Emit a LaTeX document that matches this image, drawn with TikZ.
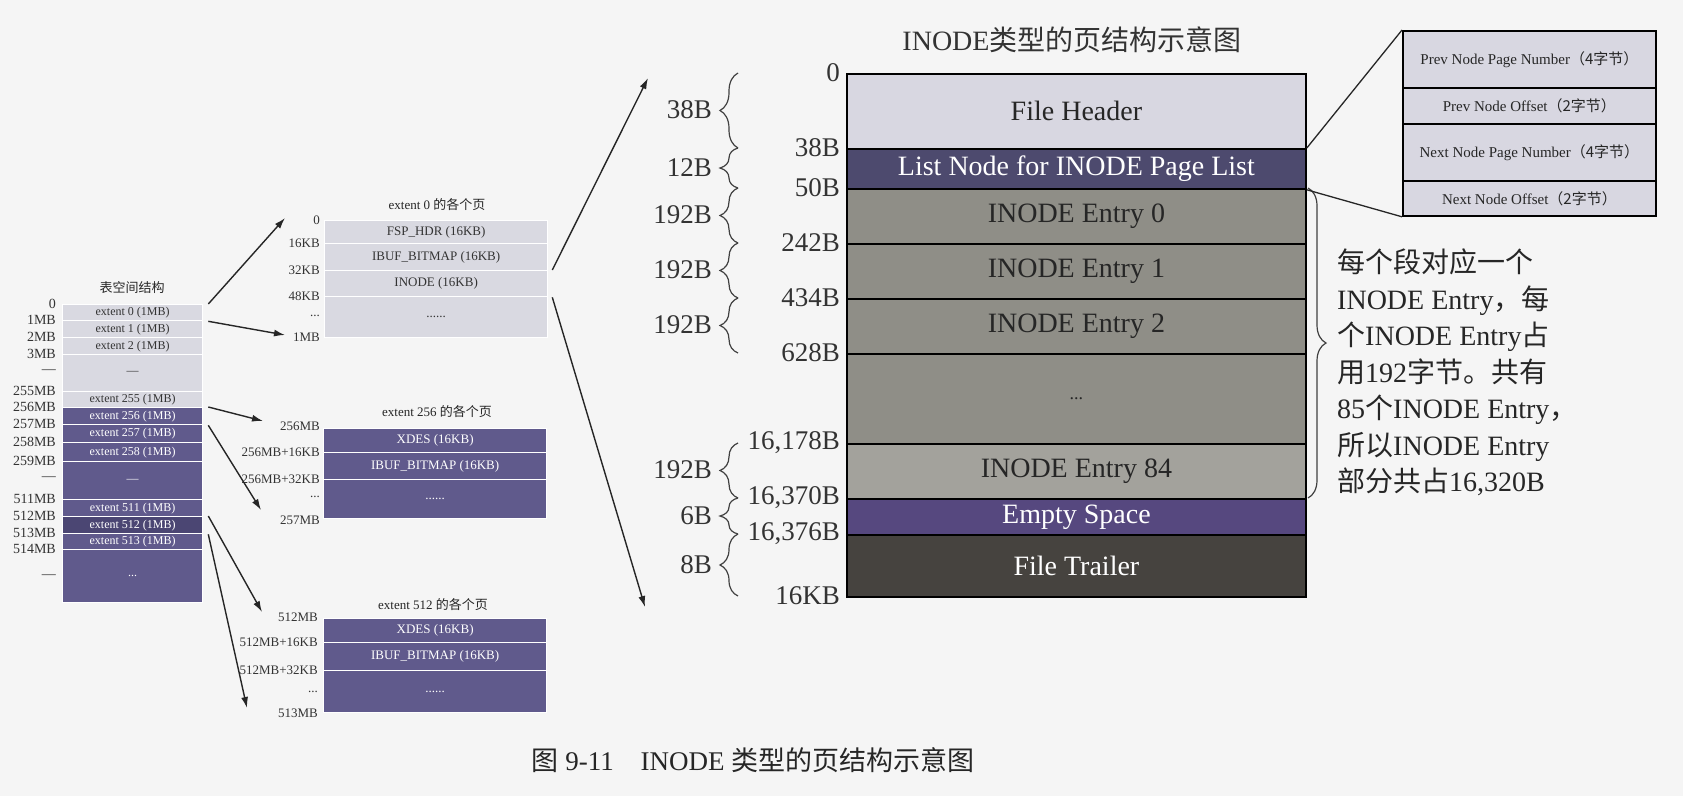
\documentclass[tikz,border=0pt]{standalone}
\usepackage{fontspec}
\setmainfont{Liberation Serif}
\newfontfamily\cjk{Noto Sans CJK SC}
\usetikzlibrary{decorations.pathreplacing,arrows.meta,calc}
\newcommand{\zh}[1]{{\cjk #1}}
\newcommand{\fsz}[2]{\fontsize{#1}{#2}\selectfont}
\definecolor{bg}{HTML}{F5F5F5}
\definecolor{rowlight}{HTML}{D9D9E1}
\definecolor{rowdark}{HTML}{605A8C}
\definecolor{rowdarker}{HTML}{4B4673}
\definecolor{hdr}{HTML}{D8D7E1}
\definecolor{listnode}{HTML}{4D4A6E}
\definecolor{entry}{HTML}{8F8E87}
\definecolor{entrylt}{HTML}{A3A29C}
\definecolor{emptysp}{HTML}{56487F}
\definecolor{trailer}{HTML}{46433F}
\begin{document}
\begin{tikzpicture}[x=1pt,y=-1pt,
  lrow/.style={rectangle, anchor=north west, fill=rowlight, draw=white, line width=1.3pt, inner sep=0pt, text=black!80, font=\fsz{12}{14}},
  drow/.style={lrow, fill=rowdark, text=white},
  xrow/.style={lrow, fill=rowdarker, text=white},
  prow/.style={rectangle, anchor=north west, draw=black, line width=1.8pt, inner sep=0pt, font=\fsz{28}{32}, text=black!85},
  sbrow/.style={rectangle, anchor=north west, draw=black, line width=1.8pt, fill=hdr, inner sep=0pt, font=\fsz{15}{18}, text=black!85},
  slab/.style={anchor=east, inner sep=0pt, font=\fsz{13}{15}, text=black!80},
  tlab/.style={slab, font=\fsz{14}{16}},
  ttl/.style={inner sep=0pt, font=\fsz{13}{15}, text=black!85},
  blab/.style={anchor=east, inner sep=0pt, font=\fsz{27}{30}, text=black!80},
  brc/.style={decorate, decoration={brace, amplitude=18pt}, line width=1.2pt, black!75},
  arr/.style={-{Latex[length=11pt,width=7pt]}, line width=1.4pt, black!85},
  lnk/.style={line width=1.3pt, black!85}
]
\fill[bg] (0,0) rectangle (1683,796);
\useasboundingbox (0,0) rectangle (1683,796);

% ---------- tablespace structure ----------
\node[ttl] (tsT) at (132,288) {\zh{表空间结构}};
\node[lrow, minimum width=140pt, minimum height=16pt] (e0) at (62,304) {extent 0 (1MB)};
\node[lrow, minimum width=140pt, minimum height=17pt] (e1) at (62,320) {extent 1 (1MB)};
\node[lrow, minimum width=140pt, minimum height=17pt] (e2) at (62,337) {extent 2 (1MB)};
\node[lrow, minimum width=140pt, minimum height=37pt] (ed1) at (62,354) {---};
\node[lrow, minimum width=140pt, minimum height=16pt] (e255) at (62,391) {extent 255 (1MB)};
\node[drow, minimum width=140pt, minimum height=17pt] (e256) at (62,407) {extent 256 (1MB)};
\node[drow, minimum width=140pt, minimum height=18pt] (e257) at (62,424) {extent 257 (1MB)};
\node[drow, minimum width=140pt, minimum height=19pt] (e258) at (62,442) {extent 258 (1MB)};
\node[drow, minimum width=140pt, minimum height=38pt] (ed2) at (62,461) {---};
\node[drow, minimum width=140pt, minimum height=17pt] (e511) at (62,499) {extent 511 (1MB)};
\node[xrow, minimum width=140pt, minimum height=17pt] (e512) at (62,516) {extent 512 (1MB)};
\node[drow, minimum width=140pt, minimum height=16pt] (e513) at (62,533) {extent 513 (1MB)};
\node[drow, minimum width=140pt, minimum height=53pt] (ed3) at (62,549) {...};

\node[tlab] (tl0) at (56,304) {0};
\node[tlab] (tl1) at (56,320) {1MB};
\node[tlab] (tl2) at (56,337) {2MB};
\node[tlab] (tl3) at (56,354) {3MB};
\node[tlab] (tld1) at (56,372) {---};
\node[tlab] (tl255) at (56,391) {255MB};
\node[tlab] (tl256) at (56,407) {256MB};
\node[tlab] (tl257) at (56,424) {257MB};
\node[tlab] (tl258) at (56,442) {258MB};
\node[tlab] (tl259) at (56,461) {259MB};
\node[tlab] (tld2) at (56,479) {---};
\node[tlab] (tl511) at (56,499) {511MB};
\node[tlab] (tl512) at (56,516) {512MB};
\node[tlab] (tl513) at (56,533) {513MB};
\node[tlab] (tl514) at (56,549) {514MB};
\node[tlab] (tld3) at (56,577) {---};

% ---------- extent 0 pages ----------
\node[ttl] (p0T) at (437,205) {extent 0 \zh{的各个页}};
\node[lrow, minimum width=223pt, minimum height=23pt, font=\fsz{13}{15}] (p0a) at (324,220) {FSP\_HDR (16KB)};
\node[lrow, minimum width=223pt, minimum height=27pt, font=\fsz{13}{15}] (p0b) at (324,243) {IBUF\_BITMAP (16KB)};
\node[lrow, minimum width=223pt, minimum height=26pt, font=\fsz{13}{15}] (p0c) at (324,270) {INODE (16KB)};
\node[lrow, minimum width=223pt, minimum height=41pt, font=\fsz{13}{15}] (p0d) at (324,296) {......};
\node[slab] (q0a) at (320,220) {0};
\node[slab] (q0b) at (320,243) {16KB};
\node[slab] (q0c) at (320,270) {32KB};
\node[slab] (q0d) at (320,296) {48KB};
\node[slab] (q0e) at (320,316) {...};
\node[slab] (q0f) at (320,337) {1MB};

% ---------- extent 256 pages ----------
\node[ttl] (p1T) at (437,412) {extent 256 \zh{的各个页}};
\node[drow, minimum width=223pt, minimum height=24pt, font=\fsz{13}{15}] (p1a) at (323,428) {XDES (16KB)};
\node[drow, minimum width=223pt, minimum height=27pt, font=\fsz{13}{15}] (p1b) at (323,452) {IBUF\_BITMAP (16KB)};
\node[drow, minimum width=223pt, minimum height=39pt, font=\fsz{13}{15}] (p1c) at (323,479) {......};
\node[slab] (q1a) at (320,426) {256MB};
\node[slab] (q1b) at (320,452) {256MB+16KB};
\node[slab] (q1c) at (320,479) {256MB+32KB};
\node[slab] (q1d) at (320,497) {...};
\node[slab] (q1e) at (320,520) {257MB};

% ---------- extent 512 pages ----------
\node[ttl] (p2T) at (433,605) {extent 512 \zh{的各个页}};
\node[drow, minimum width=223pt, minimum height=24pt, font=\fsz{13}{15}] (p2a) at (323,618) {XDES (16KB)};
\node[drow, minimum width=223pt, minimum height=28pt, font=\fsz{13}{15}] (p2b) at (323,642) {IBUF\_BITMAP (16KB)};
\node[drow, minimum width=223pt, minimum height=42pt, font=\fsz{13}{15}] (p2c) at (323,670) {......};
\node[slab] (q2a) at (318,617) {512MB};
\node[slab] (q2b) at (318,642) {512MB+16KB};
\node[slab] (q2c) at (318,670) {512MB+32KB};
\node[slab] (q2d) at (318,692) {...};
\node[slab] (q2e) at (318,713) {513MB};

% ---------- INODE page ----------
\node[font=\fsz{28}{32}, inner sep=0pt, text=black!80] (mainT) at (1072,40) {INODE\zh{类型的页结构示意图}};
\node[prow, fill=hdr, minimum width=459pt, minimum height=75pt] (fh) at (846,73) {File Header};
\node[prow, fill=listnode, text=white, minimum width=459pt, minimum height=40pt] (ln) at (846,148) {List Node for INODE Page List};
\node[prow, fill=entry, minimum width=459pt, minimum height=55pt] (en0) at (846,188) {INODE Entry 0};
\node[prow, fill=entry, minimum width=459pt, minimum height=55pt] (en1) at (846,243) {INODE Entry 1};
\node[prow, fill=entry, minimum width=459pt, minimum height=55pt] (en2) at (846,298) {INODE Entry 2};
\node[prow, fill=entry, minimum width=459pt, minimum height=90pt, font=\fsz{18}{20}] (end) at (846,353) {...};
\node[prow, fill=entrylt, minimum width=459pt, minimum height=55pt] (en84) at (846,443) {INODE Entry 84};
\node[prow, fill=emptysp, text=white, minimum width=459pt, minimum height=36pt] (es) at (846,498) {Empty Space};
\node[prow, fill=trailer, text=white, minimum width=459pt, minimum height=62pt] (ft) at (846,534) {File Trailer};

\node[blab] (m0) at (840,73) {0};
\node[blab] (m1) at (840,148) {38B};
\node[blab] (m2) at (840,188) {50B};
\node[blab] (m3) at (840,243) {242B};
\node[blab] (m4) at (840,298) {434B};
\node[blab] (m5) at (840,353) {628B};
\node[blab] (m6) at (840,443) {16,178B};
\node[blab] (m7) at (840,498) {16,370B};
\node[blab] (m8) at (840,534) {16,376B};
\node[blab] (m9) at (840,596) {16KB};

\draw[brc] (738,148) -- (738,73);
\draw[brc] (738,188) -- (738,148);
\draw[brc] (738,243) -- (738,188);
\draw[brc] (738,298) -- (738,243);
\draw[brc] (738,353) -- (738,298);
\draw[brc] (738,498) -- (738,443);
\draw[brc] (738,534) -- (738,498);
\draw[brc] (738,596) -- (738,534);
\node[blab] (s1) at (712,110) {38B};
\node[blab] (s2) at (712,168) {12B};
\node[blab] (s3) at (712,215) {192B};
\node[blab] (s4) at (712,270) {192B};
\node[blab] (s5) at (712,325) {192B};
\node[blab] (s6) at (712,470) {192B};
\node[blab] (s7) at (712,516) {6B};
\node[blab] (s8) at (712,565) {8B};

% right brace and note
\draw[brc] (1308,188) -- (1308,498);
\node[anchor=north west, inner sep=0pt, align=left, font=\fsz{28}{36.5}, text=black!85] (note) at (1337,249)
 {\zh{每个段对应一个}\\
  INODE Entry\zh{，每}\\
  \zh{个}INODE Entry\zh{占}\\
  \zh{用}192\zh{字节。共有}\\
  85\zh{个}INODE Entry\zh{，}\\
  \zh{所以}INODE Entry\\
  \zh{部分共占}16,320B};

% list node detail box
\node[sbrow, minimum width=253pt, minimum height=57pt] (sb1) at (1402,30) {Prev Node Page Number\zh{（4字节）}};
\node[sbrow, minimum width=253pt, minimum height=36pt] (sb2) at (1402,87) {Prev Node Offset\zh{（2字节）}};
\node[sbrow, minimum width=253pt, minimum height=57pt] (sb3) at (1402,123) {Next Node Page Number\zh{（4字节）}};
\node[sbrow, minimum width=253pt, minimum height=35pt] (sb4) at (1402,180) {Next Node Offset\zh{（2字节）}};
\draw[lnk] (ln.north east) -- (sb1.north west);
\draw[lnk] (ln.south east) -- (sb4.south west);

% arrows
\coordinate (t1) at (285,218);
\coordinate (t2) at (285,335);
\coordinate (t3) at (263,421);
\coordinate (t4) at (261,510);
\coordinate (t5) at (262,612);
\coordinate (t6) at (247,708);
\coordinate (t7) at (648,78);
\coordinate (t8) at (645,607);
\draw[arr] ([xshift=5pt]e0.north east) -- (t1);
\draw[arr] ([xshift=5pt]e0.south east) -- (t2);
\draw[arr] ([xshift=5pt]e256.north east) -- (t3);
\draw[arr] ([xshift=5pt]e256.south east) -- (t4);
\draw[arr] ([xshift=5pt]e512.north east) -- (t5);
\draw[arr] ([xshift=5pt]e512.south east) -- (t6);
\draw[arr] ([xshift=4pt]p0c.north east) -- (t7);
\draw[arr] ([xshift=4pt]p0c.south east) -- (t8);

% caption
\node[font=\fsz{27}{30}, inner sep=0pt, text=black!85] (cap) at (753,760) {\zh{图} 9-11\quad INODE \zh{类型的页结构示意图}};
\end{tikzpicture}
\end{document}
